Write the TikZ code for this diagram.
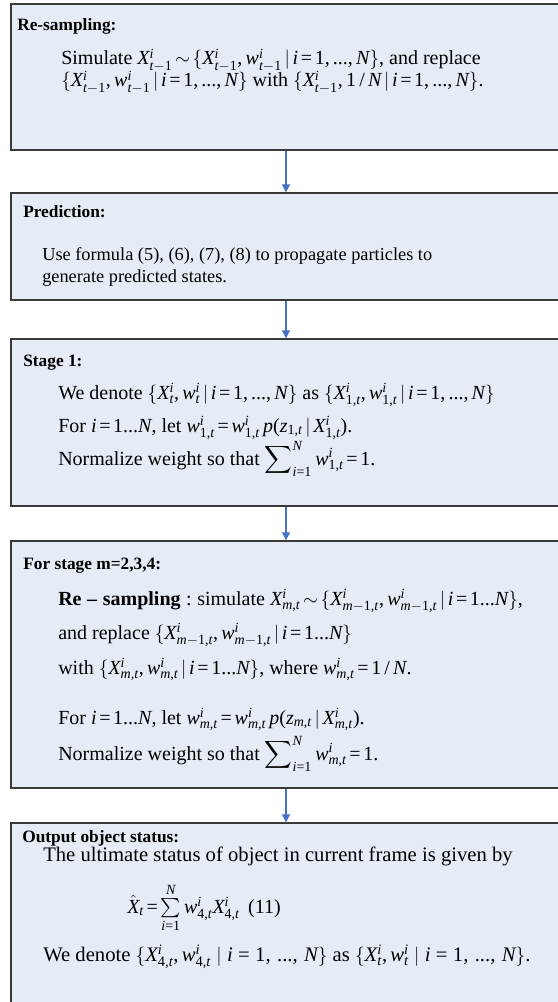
\documentclass[tikz,border=0pt]{standalone}
\usepackage{amsmath}
\usepackage[no-math]{fontspec}
\setmainfont[NFSSFamily=libser]{Liberation Serif}
\DeclareSymbolFont{operators}{TU}{libser}{m}{n}
\DeclareSymbolFont{letters}{TU}{libser}{m}{it}
\DeclareSymbolFont{lmacc}{OT1}{cmr}{m}{n}
\DeclareMathSymbol{,}{\mathpunct}{operators}{"2C}
\DeclareMathSymbol{.}{\mathord}{operators}{"2E}
\DeclareMathSymbol{/}{\mathord}{operators}{"2F}
\DeclareMathSymbol{\ldotp}{\mathpunct}{operators}{"2E}
\newcommand{\lmhat}[1]{\mathaccent\numexpr\symlmacc*256+"5E\relax{#1}}
\usetikzlibrary{arrows.meta,fit}
\definecolor{boxfill}{HTML}{E6ECF5}
\definecolor{boxline}{HTML}{3A3A3A}
\definecolor{arrowblue}{HTML}{4472C4}
\tikzset{
  box/.style={draw=boxline, fill=boxfill, line width=1pt, inner sep=0pt},
  head/.style={anchor=base west, inner sep=0pt, font=\fontsize{13}{15}\selectfont\bfseries},
  body/.style={anchor=base west, inner sep=0pt, font=\fontsize{15}{18}\selectfont,
    execute at begin node={\thickmuskip=2.5mu plus 1mu\medmuskip=2mu plus 1mu}},
  bigbody/.style={anchor=base west, inner sep=0pt, font=\fontsize{15.5}{18}\selectfont},
  smallbody/.style={anchor=base west, inner sep=0pt, font=\fontsize{13.75}{17}\selectfont},
  arr/.style={draw=arrowblue, line width=0.8pt, -{Triangle[width=6pt,length=6pt]}}
}
\begin{document}
\begin{tikzpicture}[x=0.75pt,y=-0.75pt]
\useasboundingbox (0,0) rectangle (557,1002);
% boxes
\node[box, fit={(11,4) (561,150)}] (b1) {};
\node[box, fit={(11,193) (561,300)}] (b2) {};
\node[box, fit={(11,339) (561,506)}] (b3) {};
\node[box, fit={(11,541) (561,788)}] (b4) {};
\node[box, fit={(11,823) (561,1020)}] (b5) {};
% arrows
\draw[arr] (b1.south) -- (b2.north);
\draw[arr] (b2.south) -- (b3.north);
\draw[arr] (b3.south) -- (b4.north);
\draw[arr] (b4.south) -- (b5.north);
% box 1
\node[head] (h1) at (17,31) {Re-sampling:};
\node[body] (t11) at (61,65) {Simulate $X_{t-1}^{i}\sim\{X_{t-1}^{i},w_{t-1}^{i}\mid i=1,...,N\}$, and replace};
\node[body] (t12) at (61,87) {$\{X_{t-1}^{i},w_{t-1}^{i}\mid i=1,...,N\}$ with $\{X_{t-1}^{i},1\,/\,N\mid i=1,...,N\}$.};
% box 2
\node[head] (h2) at (23,217) {Prediction:};
\node[smallbody] (t21) at (42,260) {Use formula (5), (6), (7), (8) to propagate particles to};
\node[smallbody] (t22) at (42,282) {generate predicted states.};
% box 3
\node[head] (h3) at (23,366) {Stage 1:};
\node[body] (t31) at (58,399) {We denote $\{X_{t}^{i},w_{t}^{i}\mid i=1,...,N\}$ as $\{X_{1,t}^{i},w_{1,t}^{i}\mid i=1,...,N\}$};
\node[body] (t32) at (58,432) {For $i=1...N$, let $w_{1,t}^{i}=w_{1,t}^{i}\,p(z_{1,t}\mid X_{1,t}^{i})$.};
\node[body] (t33) at (58,465) {Normalize weight so that $\displaystyle\sum\nolimits_{i=1}^{N}w_{1,t}^{i}=1$.};
% box 4
\node[head] (h4) at (23,569) {For stage m=2,3,4:};
\node[body] (t41) at (58,605) {\textbf{Re}\;\textbf{--}\;\textbf{sampling}\;:\;simulate $X_{m,t}^{i}\sim\{X_{m-1,t}^{i},w_{m-1,t}^{i}\mid i=1...N\}$,};
\node[body] (t42) at (58,639) {and replace $\{X_{m-1,t}^{i},w_{m-1,t}^{i}\mid i=1...N\}$};
\node[body] (t43) at (58,674) {with $\{X_{m,t}^{i},w_{m,t}^{i}\mid i=1...N\}$, where $w_{m,t}^{i}=1\,/\,N$.};
\node[body] (t44) at (58,724) {For $i=1...N$, let $w_{m,t}^{i}=w_{m,t}^{i}\,p(z_{m,t}\mid X_{m,t}^{i})$.};
\node[body] (t45) at (58,760) {Normalize weight so that $\displaystyle\sum\nolimits_{i=1}^{N}w_{m,t}^{i}=1$.};
% box 5
\node[head] (h5) at (22,842) {Output object status:};
\node[bigbody] (t51) at (43,861) {The ultimate status of object in current frame is given by};
\node[body] (t52) at (127,913) {$\lmhat{X}_{t}=\sum\limits_{i=1}^{N}w_{4,t}^{i}X_{4,t}^{i}$\ \,(11)};
\node[bigbody] (t53) at (43,961) {We denote $\{X_{4,t}^{i},w_{4,t}^{i}\mid i=1,\,...,\,N\}$ as $\{X_{t}^{i},w_{t}^{i}\mid i=1,\,...,\,N\}$.};
\end{tikzpicture}
\end{document}
